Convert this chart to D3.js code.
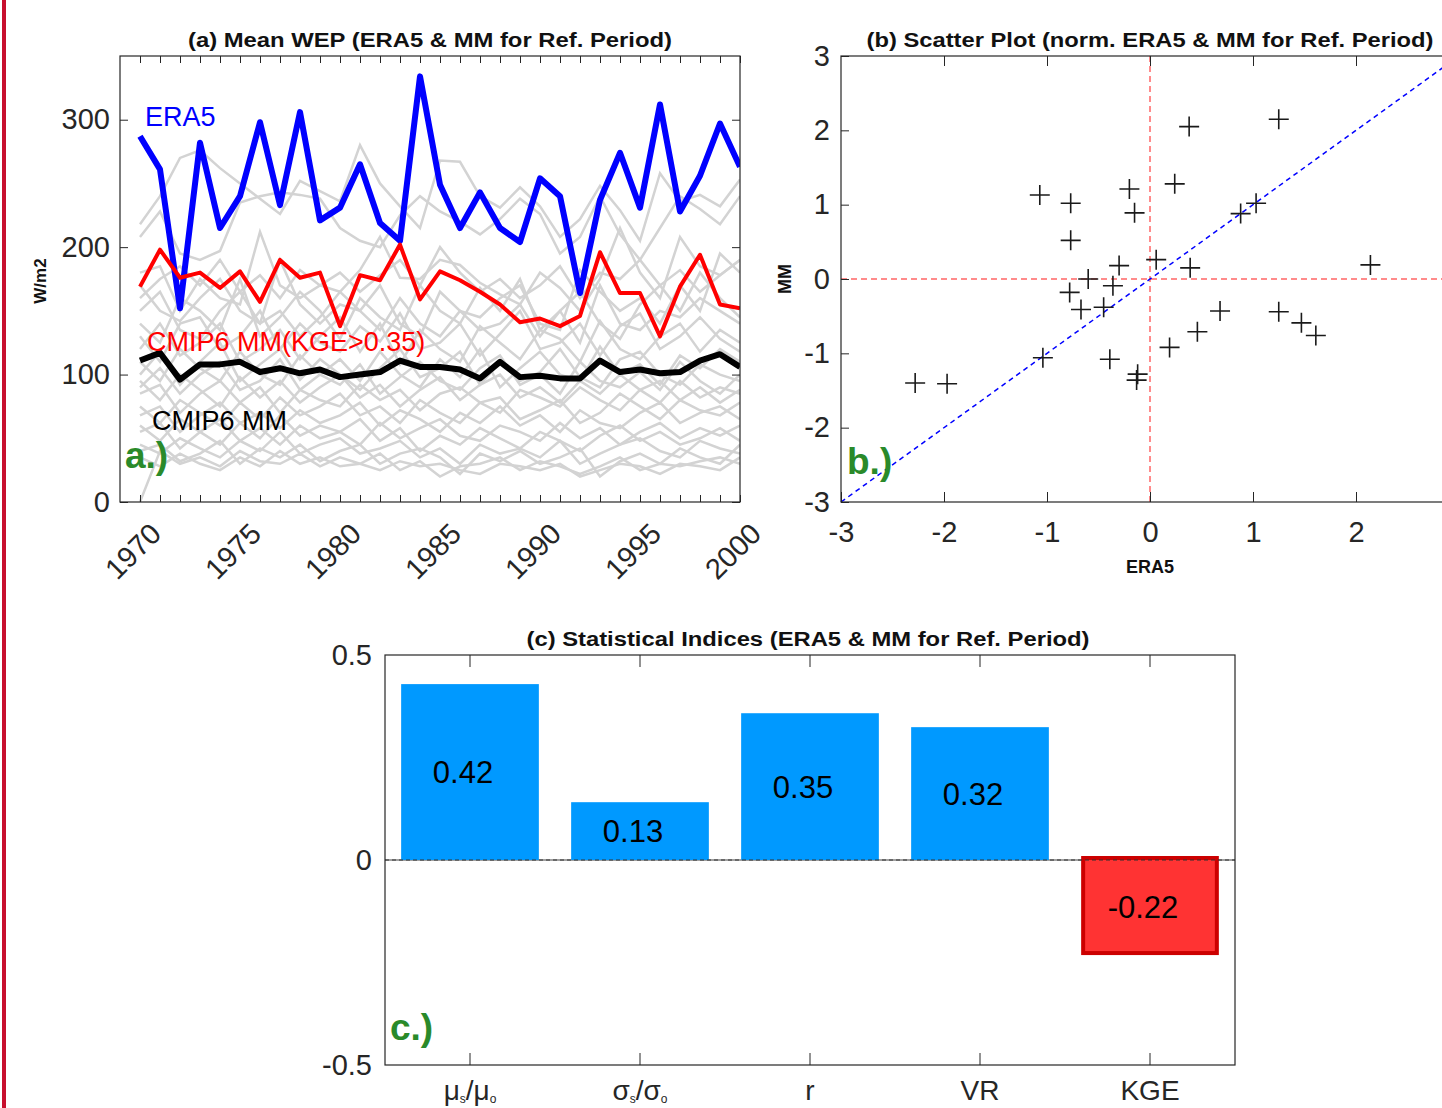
<!DOCTYPE html>
<html>
<head>
<meta charset="utf-8">
<script src="https://cdn.jsdelivr.net/npm/d3@7"></script>
<style>
  body { margin: 0; background: #fff; }
  svg { display: block; font-family: "Liberation Sans", Arial, sans-serif; }
  .tick text { fill: #262626; }
</style>
</head>
<body>
<div id="wrapper"></div>
<script>
// ---- data ----
const years = d3.range(1970, 2001)

const era5 = [287, 261, 152, 282, 215, 240, 298, 233, 306, 221, 231, 265, 219, 205, 334,
  249, 215, 243, 215, 204, 254, 240, 164, 237, 274, 231, 312, 228, 256, 297, 263]
const mmKge = [169, 198, 176, 180, 168, 181, 157, 190, 176, 180, 138, 178, 174, 202, 159,
  181, 174, 165, 155, 141, 144, 138, 146, 196, 164, 164, 130, 169, 194, 155, 152]
const mmAll = [111, 117, 96, 108, 108, 110, 102, 105, 101, 104, 98, 100, 102, 111, 106,
  106, 104, 97, 110, 98, 99, 97, 97, 111, 102, 104, 101, 102, 111, 116, 106]

// individual models (grey spaghetti)
const models = [
  [218, 240, 270, 276, 262, 250, 238, 226, 252, 244, 236, 280, 250, 232, 215, 268, 267, 240, 231, 247, 232, 208, 222, 248, 229, 205, 258, 236, 241, 232, 253],
  [208, 228, 195, 190, 197, 235, 240, 243, 241, 238, 215, 205, 200, 225, 240, 228, 220, 210, 222, 238, 226, 195, 208, 240, 210, 190, 215, 240, 230, 218, 240],
  [180, 185, 150, 175, 160, 155, 212, 170, 160, 170, 165, 182, 208, 176, 175, 190, 186, 172, 163, 155, 180, 168, 150, 175, 215, 180, 160, 208, 185, 178, 190],
  [170, 150, 142, 160, 175, 150, 140, 190, 155, 140, 155, 150, 170, 140, 130, 165, 150, 145, 160, 170, 140, 135, 182, 165, 150, 160, 140, 170, 150, 195, 180],
  [150, 165, 135, 128, 150, 165, 140, 150, 130, 145, 165, 150, 135, 160, 140, 130, 150, 135, 140, 155, 130, 150, 125, 170, 140, 135, 150, 145, 160, 150, 140],
  [130, 110, 140, 145, 120, 130, 150, 120, 140, 125, 118, 138, 126, 148, 120, 125, 140, 115, 132, 150, 120, 125, 140, 115, 138, 148, 120, 130, 145, 128, 118],
  [120, 140, 115, 125, 140, 110, 120, 135, 112, 130, 145, 118, 140, 108, 135, 120, 110, 138, 125, 112, 135, 128, 110, 142, 120, 112, 130, 140, 118, 135, 125],
  [110, 95, 120, 105, 95, 118, 100, 92, 115, 100, 112, 95, 118, 100, 90, 112, 98, 120, 90, 105, 118, 100, 95, 122, 100, 108, 92, 115, 105, 120, 110],
  [100, 118, 92, 110, 125, 95, 108, 120, 96, 112, 100, 88, 105, 120, 98, 105, 118, 92, 110, 95, 102, 120, 98, 90, 112, 118, 100, 92, 108, 100, 95],
  [95, 80, 100, 88, 75, 98, 82, 95, 78, 90, 100, 82, 92, 75, 88, 98, 80, 92, 100, 82, 90, 78, 95, 85, 100, 88, 78, 95, 82, 90, 85],
  [85, 92, 70, 85, 95, 78, 90, 70, 88, 80, 75, 92, 80, 88, 72, 85, 90, 78, 70, 88, 82, 75, 90, 80, 72, 88, 95, 80, 90, 78, 88],
  [75, 62, 80, 70, 60, 78, 65, 82, 68, 75, 85, 68, 75, 62, 80, 70, 62, 78, 82, 65, 72, 80, 62, 70, 85, 75, 65, 80, 72, 68, 78],
  [68, 75, 55, 68, 78, 62, 70, 58, 72, 62, 68, 78, 60, 72, 65, 55, 70, 62, 75, 60, 68, 55, 72, 62, 58, 70, 78, 62, 70, 75, 65],
  [60, 48, 65, 55, 45, 62, 50, 68, 52, 60, 55, 45, 62, 50, 58, 65, 52, 48, 60, 55, 48, 62, 50, 58, 45, 55, 62, 50, 58, 52, 60],
  [55, 62, 42, 55, 65, 48, 58, 45, 60, 50, 55, 65, 48, 58, 40, 52, 45, 58, 50, 42, 55, 48, 40, 52, 60, 48, 55, 45, 50, 58, 48],
  [45, 38, 50, 42, 35, 48, 40, 55, 38, 45, 50, 38, 42, 48, 35, 42, 30, 45, 38, 42, 35, 48, 30, 38, 45, 50, 40, 35, 48, 42, 38],
  [40, 45, 32, 38, 48, 30, 42, 35, 45, 32, 40, 45, 30, 38, 42, 35, 22, 38, 32, 40, 30, 35, 42, 20, 32, 38, 30, 42, 35, 30, 45],
  [35, 28, 38, 30, 25, 35, 28, 40, 30, 35, 28, 30, 38, 25, 32, 20, 28, 30, 35, 25, 32, 28, 22, 28, 35, 25, 30, 28, 32, 35, 30],
  [0, 40, 30, 35, 28, 40, 32, 30, 38, 28, 35, 30, 25, 32, 28, 30, 25, 22, 30, 28, 25, 30, 20, 25, 30, 28, 22, 30, 28, 25, 35],
  [160, 175, 185, 170, 190, 165, 178, 160, 182, 170, 180, 165, 178, 190, 170, 200, 180, 165, 175, 160, 170, 185, 160, 180, 175, 190, 170, 182, 165, 178, 190],
  [140, 125, 160, 150, 135, 175, 130, 145, 165, 150, 128, 160, 145, 135, 170, 150, 140, 168, 150, 175, 135, 150, 165, 140, 128, 155, 170, 150, 180, 160, 145],
  [90, 105, 85, 100, 110, 88, 95, 112, 88, 100, 92, 108, 85, 98, 110, 95, 88, 105, 115, 92, 100, 85, 110, 95, 90, 102, 88, 110, 95, 85, 100],
]

// normalised ERA5 vs MM (one point per year)
const normEra5 = [-1.07, -0.77, -0.77, -0.2, -0.15, 0.38, 0.24, 1.25, 0.88, 1.03, 0.06, 0.39, 2.14, -0.3, -0.6, -0.36,
  -0.78, -0.67, -0.45, -1.04, -0.39, -0.12, -0.13, 0.19, 0.46, 0.68, 1.25, 1.47, 1.61, -2.28, -1.97]
const normMm = [1.13, 1.02, 0.52, 1.21, 0.89, 2.05, 1.28, 2.15, 0.88, 1.02, 0.26, 0.15, 0.19, 0.18, 0.0, -0.09,
  -0.18, -0.41, -0.38, -1.06, -1.08, -1.28, -1.36, -0.92, -0.71, -0.43, -0.44, -0.59, -0.76, -1.40, -1.41]

// statistical indices
const indices = ["mu", "sigma", "r", "VR", "KGE"]
const indexValues = [0.429, 0.141, 0.358, 0.324, -0.227]
const indexLabels = ["0.42", "0.13", "0.35", "0.32", "-0.22"]

// ---- page ----
const width = 1442
const height = 1108
const axisColor = "#262626"
const green = "#2a8a2a"
const fmt = d => String(d)   // plain hyphen minus, no trailing decimals

const svg = d3.select("#wrapper").append("svg")
    .attr("width", width)
    .attr("height", height)

// red strip on the left edge
svg.append("rect")
    .attr("x", 2).attr("y", 0)
    .attr("width", 4).attr("height", height)
    .attr("fill", "#c8102e")

const styleAxis = g => {
  g.select(".domain").remove()
  g.selectAll(".tick line").attr("stroke", axisColor)
  g.selectAll(".tick text").attr("font-size", 29)
}

const title = (g, x, text, len) => g.append("text")
    .attr("x", x).attr("y", -9)
    .attr("text-anchor", "middle")
    .attr("font-size", 20).attr("font-weight", "bold").attr("fill", "#111")
    .attr("textLength", len).attr("lengthAdjust", "spacingAndGlyphs")
    .text(text)

// =============== (a) time series ===============
const a = { left: 120, top: 56, width: 620, height: 446 }
const ga = svg.append("g").attr("transform", `translate(${a.left},${a.top})`)

const xA = d3.scaleLinear().domain([1969, 2000]).range([0, a.width])
const yA = d3.scaleLinear().domain([0, 350]).range([a.height, 0])

svg.append("clipPath").attr("id", "clipA")
  .append("rect").attr("width", a.width).attr("height", a.height)

const lineA = d3.line()
    .x((d, i) => xA(years[i]))
    .y(d => yA(d))

const plotA = ga.append("g").attr("clip-path", "url(#clipA)")
plotA.selectAll(".model")
  .data(models)
  .join("path")
    .attr("class", "model")
    .attr("d", lineA)
    .attr("fill", "none")
    .attr("stroke", "#d3d3d3")
    .attr("stroke-width", 2.5)

plotA.append("path").attr("d", lineA(era5))
    .attr("fill", "none").attr("stroke", "#0000ff").attr("stroke-width", 6)
    .attr("stroke-linejoin", "round")
plotA.append("path").attr("d", lineA(mmKge))
    .attr("fill", "none").attr("stroke", "#ff0000").attr("stroke-width", 4)
    .attr("stroke-linejoin", "round")
plotA.append("path").attr("d", lineA(mmAll))
    .attr("fill", "none").attr("stroke", "#000000").attr("stroke-width", 6)
    .attr("stroke-linejoin", "round")

ga.append("g")
    .attr("transform", `translate(0,${a.height})`)
    .call(d3.axisBottom(xA).tickValues(years).tickSize(-7).tickFormat(d => d % 5 === 0 ? d : ""))
    .call(styleAxis)
    .selectAll(".tick text")
      .attr("text-anchor", "end")
      .attr("transform", "translate(6,17) rotate(-45)")
      .attr("dy", "0.7em")
ga.append("g")
    .call(d3.axisTop(xA).tickValues(years).tickSize(-7).tickFormat(""))
    .call(styleAxis)
ga.append("g")
    .call(d3.axisLeft(yA).tickValues([0, 100, 200, 300]).tickSize(-8).tickPadding(10).tickFormat(fmt))
    .call(styleAxis)
ga.append("g")
    .attr("transform", `translate(${a.width},0)`)
    .call(d3.axisRight(yA).tickValues([0, 100, 200, 300]).tickSize(-8).tickFormat(""))
    .call(styleAxis)
ga.append("rect")
    .attr("width", a.width).attr("height", a.height)
    .attr("fill", "none").attr("stroke", axisColor).attr("stroke-width", 1.2)

title(ga, 310, "(a) Mean WEP (ERA5 & MM for Ref. Period)", 484)
ga.append("text")
    .attr("transform", `translate(${-74},${a.height / 2 + 2}) rotate(-90)`)
    .attr("text-anchor", "middle")
    .attr("font-size", 17).attr("font-weight", "bold").attr("fill", "#111")
    .text("W/m2")

ga.append("text").attr("x", 25).attr("y", 70)
    .attr("font-size", 27).attr("fill", "#0000ff").text("ERA5")
ga.append("text").attr("x", 27).attr("y", 295)
    .attr("font-size", 27).attr("fill", "#ff0000").text("CMIP6 MM(KGE>0.35)")
ga.append("text").attr("x", 32).attr("y", 374)
    .attr("font-size", 27).attr("fill", "#000").text("CMIP6 MM")
ga.append("text").attr("x", 5).attr("y", 412)
    .attr("font-size", 37).attr("font-weight", "bold").attr("fill", green).text("a.)")

// =============== (b) scatter ===============
const b = { left: 841, top: 56, width: 618, height: 446 }
const gb = svg.append("g").attr("transform", `translate(${b.left},${b.top})`)

const xB = d3.scaleLinear().domain([-3, 3]).range([0, b.width])
const yB = d3.scaleLinear().domain([-3, 3]).range([b.height, 0])

gb.append("line")
    .attr("x1", xB(0)).attr("x2", xB(0)).attr("y1", 0).attr("y2", b.height)
    .attr("stroke", "#ff6666").attr("stroke-width", 1.5).attr("stroke-dasharray", "6,4")
gb.append("line")
    .attr("x1", 0).attr("x2", b.width).attr("y1", yB(0)).attr("y2", yB(0))
    .attr("stroke", "#ff6666").attr("stroke-width", 1.5).attr("stroke-dasharray", "6,4")
gb.append("line")
    .attr("x1", xB(-3)).attr("y1", yB(-3)).attr("x2", xB(3)).attr("y2", yB(3))
    .attr("stroke", "#0000ff").attr("stroke-width", 1.5).attr("stroke-dasharray", "5,4")

gb.selectAll(".cross")
  .data(normEra5)
  .join("path")
    .attr("class", "cross")
    .attr("d", (d, i) => {
      const cx = xB(d), cy = yB(normMm[i]), r = 10
      return `M${cx - r},${cy}H${cx + r}M${cx},${cy - r}V${cy + r}`
    })
    .attr("stroke", "#1a1a1a").attr("stroke-width", 1.6)

gb.append("g")
    .attr("transform", `translate(0,${b.height})`)
    .call(d3.axisBottom(xB).tickValues([-3, -2, -1, 0, 1, 2]).tickSize(-10).tickPadding(19).tickFormat(fmt))
    .call(styleAxis)
gb.append("g")
    .call(d3.axisTop(xB).tickValues([-2, -1, 0, 1, 2]).tickSize(-10).tickFormat(""))
    .call(styleAxis)
gb.append("g")
    .call(d3.axisLeft(yB).tickValues([-3, -2, -1, 0, 1, 2, 3]).tickSize(-8).tickPadding(11).tickFormat(fmt))
    .call(styleAxis)
gb.append("rect")
    .attr("width", b.width).attr("height", b.height)
    .attr("fill", "none").attr("stroke", axisColor).attr("stroke-width", 1.2)

title(gb, xB(0), "(b) Scatter Plot (norm. ERA5 & MM for Ref. Period)", 567)
gb.append("text")
    .attr("x", xB(0)).attr("y", b.height + 71)
    .attr("text-anchor", "middle")
    .attr("font-size", 18).attr("font-weight", "bold").attr("fill", "#111")
    .text("ERA5")
gb.append("text")
    .attr("transform", `translate(${-50},${yB(0)}) rotate(-90)`)
    .attr("text-anchor", "middle")
    .attr("font-size", 18).attr("font-weight", "bold").attr("fill", "#111")
    .text("MM")
gb.append("text").attr("x", 6).attr("y", 418)
    .attr("font-size", 37).attr("font-weight", "bold").attr("fill", green).text("b.)")

// =============== (c) bars ===============
const c = { left: 385, top: 655, width: 850, height: 410 }
const gc = svg.append("g").attr("transform", `translate(${c.left},${c.top})`)

const xC = d3.scaleBand().domain(indices).range([0, c.width]).paddingInner(0.19).paddingOuter(0.095)
const yC = d3.scaleLinear().domain([-0.5, 0.5]).range([c.height, 0])

gc.append("line")
    .attr("x1", 0).attr("x2", c.width).attr("y1", yC(0)).attr("y2", yC(0))
    .attr("stroke", "#444").attr("stroke-width", 1.2)

gc.selectAll(".bar")
  .data(indexValues)
  .join("rect")
    .attr("class", "bar")
    .attr("x", (d, i) => xC(indices[i]) + (d < 0 ? 2 : 0))
    .attr("width", d => xC.bandwidth() - (d < 0 ? 4 : 0))
    .attr("y", d => yC(Math.max(0, d)) - (d < 0 ? 2 : 0))
    .attr("height", d => Math.abs(yC(d) - yC(0)) + (d < 0 ? 2 : 0))
    .attr("fill", d => d < 0 ? "#ff3333" : "#0099ff")
    .attr("stroke", d => d < 0 ? "#cc0000" : "none")
    .attr("stroke-width", 4)

gc.append("line")
    .attr("x1", 0).attr("x2", c.width).attr("y1", yC(0)).attr("y2", yC(0))
    .attr("stroke", "#333").attr("stroke-width", 1).attr("stroke-dasharray", "4,3")

gc.selectAll(".barlabel")
  .data(indexValues)
  .join("text")
    .attr("class", "barlabel")
    .attr("x", (d, i) => xC(indices[i]) + xC.bandwidth() / 2 - 7)
    .attr("y", d => (yC(d) + yC(0)) / 2)
    .attr("dy", "0.36em")
    .attr("text-anchor", "middle")
    .attr("font-size", 31).attr("fill", "#000")
    .text((d, i) => indexLabels[i])

const xTickGen = (g, top) => {
  g.selectAll(".ctick")
    .data(indices)
    .join("line")
      .attr("x1", d => xC(d) + xC.bandwidth() / 2)
      .attr("x2", d => xC(d) + xC.bandwidth() / 2)
      .attr("y1", top ? 0 : c.height)
      .attr("y2", top ? 12 : c.height - 12)
      .attr("stroke", axisColor)
}
gc.append("g").call(g => xTickGen(g, true))
gc.append("g").call(g => xTickGen(g, false))

gc.append("g")
    .call(d3.axisLeft(yC).tickValues([-0.5, 0, 0.5]).tickSize(0).tickPadding(13).tickFormat(fmt))
    .call(styleAxis)
gc.append("rect")
    .attr("width", c.width).attr("height", c.height)
    .attr("fill", "none").attr("stroke", axisColor).attr("stroke-width", 1.2)

const catLabels = gc.selectAll(".catlabel")
  .data(indices)
  .join("text")
    .attr("class", "catlabel")
    .attr("x", d => xC(d) + xC.bandwidth() / 2)
    .attr("y", c.height + 35)
    .attr("text-anchor", "middle")
    .attr("font-size", 28).attr("fill", axisColor)
catLabels.each(function(d) {
  const t = d3.select(this)
  if (d === "mu" || d === "sigma") {
    const ch = d === "mu" ? "μ" : "σ"
    t.append("tspan").text(ch)
    t.append("tspan").attr("font-size", 12).attr("dy", 3).text("s")
    t.append("tspan").attr("dy", -3).text("/" + ch)
    t.append("tspan").attr("font-size", 12).attr("dy", 3).text("o")
  } else {
    t.text(d)
  }
})

title(gc, c.width / 2 - 2, "(c) Statistical Indices (ERA5 & MM for Ref. Period)", 563)
gc.append("text").attr("x", 5).attr("y", 385)
    .attr("font-size", 37).attr("font-weight", "bold").attr("fill", green).text("c.)")
</script>
</body>
</html>
